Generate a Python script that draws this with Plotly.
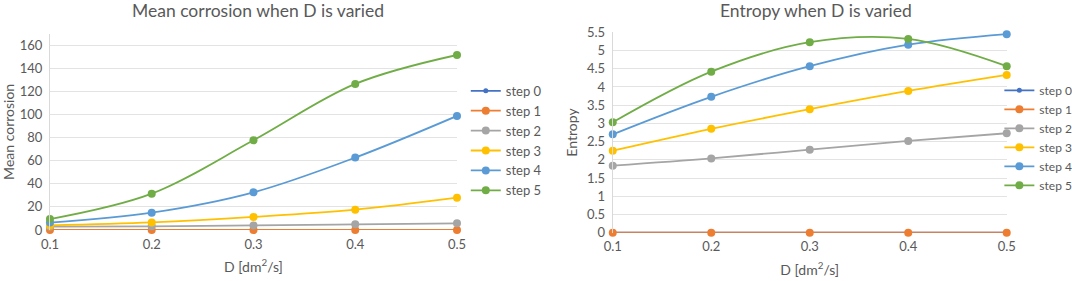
import plotly.graph_objects as go

D = [0.1, 0.2, 0.3, 0.4, 0.5]
series_names = ["step 0", "step 1", "step 2", "step 3", "step 4", "step 5"]
colors = ["#4472C4", "#ED7D31", "#A5A5A5", "#FFC000", "#5B9BD5", "#70AD47"]

corr_step0 = [0, 0, 0, 0, 0]
corr_step1 = [0, 0, 0, 0, 0]
corr_step2 = [2.9, 3.2, 4.0, 4.9, 5.8]
corr_step3 = [4.0, 6.6, 11.3, 17.6, 28.0]
corr_step4 = [6.4, 15.0, 32.6, 62.7, 98.8]
corr_step5 = [9.5, 31.5, 77.7, 126.5, 151.6]

ent_step0 = [0, 0, 0, 0, 0]
ent_step1 = [0, 0, 0, 0, 0]
ent_step2 = [1.84, 2.04, 2.28, 2.52, 2.73]
ent_step3 = [2.25, 2.85, 3.39, 3.89, 4.33]
ent_step4 = [2.70, 3.73, 4.57, 5.16, 5.45]
ent_step5 = [3.03, 4.42, 5.23, 5.32, 4.57]

corr = [corr_step0, corr_step1, corr_step2, corr_step3, corr_step4, corr_step5]
ent = [ent_step0, ent_step1, ent_step2, ent_step3, ent_step4, ent_step5]

FONT = "Lato, 'Liberation Sans', sans-serif"
TXT = "#595959"
GRID = "#E3E3E3"
CLEAR = "rgba(0,0,0,0)"

fig = go.Figure()
for i, name in enumerate(series_names):
    msize = 5 if i == 0 else 8
    fig.add_trace(go.Scatter(
        x=D, y=corr[i], name=name, mode="lines+markers",
        line=dict(color=colors[i], width=1.8, shape="spline", smoothing=1.0),
        marker=dict(color=colors[i], size=msize),
        cliponaxis=False, xaxis="x", yaxis="y", legend="legend"))
for i, name in enumerate(series_names):
    msize = 5 if i == 0 else 8
    fig.add_trace(go.Scatter(
        x=D, y=ent[i], name=name, mode="lines+markers",
        line=dict(color=colors[i], width=1.8, shape="spline", smoothing=1.0),
        marker=dict(color=colors[i], size=msize),
        cliponaxis=False, xaxis="x2", yaxis="y2", legend="legend2"))

yaxis_common = dict(tickfont=dict(family=FONT, size=13, color=TXT), showgrid=True,
                    gridcolor=GRID, zeroline=False, ticks="outside", ticklen=4,
                    tickcolor=CLEAR, showline=True, linecolor="#D9D9D9", linewidth=1,
                    automargin=False)
xaxis_common = dict(range=[0.1, 0.5], tickvals=D, ticktext=["0.1", "0.2", "0.3", "0.4", "0.5"],
                    showgrid=False, showline=False, zeroline=False, automargin=False,
                    ticks="outside", ticklen=2, tickcolor=CLEAR,
                    tickfont=dict(family=FONT, size=13, color=TXT),
                    title=dict(text="D [dm<sup>2</sup>/s]", font=dict(family=FONT, size=14, color=TXT), standoff=11))

fig.update_layout(
    width=1072, height=281,
    margin=dict(l=0, r=0, t=0, b=0, autoexpand=False),
    paper_bgcolor="white", plot_bgcolor="white",
    font=dict(family=FONT, color=TXT),
    xaxis=dict(domain=[0.0466, 0.4263], anchor="y", **xaxis_common),
    yaxis=dict(domain=[0.1815, 0.880], range=[0, 170], tickvals=[0, 20, 40, 60, 80, 100, 120, 140, 160],
               anchor="x",
               title=dict(text="Mean corrosion", font=dict(family=FONT, size=14, color=TXT), standoff=16),
               **yaxis_common),
    xaxis2=dict(domain=[0.5716, 0.9391], anchor="y2", **xaxis_common),
    yaxis2=dict(domain=[0.1719, 0.885], range=[0, 5.5],
                tickvals=[0, 0.5, 1, 1.5, 2, 2.5, 3, 3.5, 4, 4.5, 5, 5.5],
                ticktext=["0", "0.5", "1", "1.5", "2", "2.5", "3", "3.5", "4", "4.5", "5", "5.5"],
                anchor="x2",
                title=dict(text="Entropy", font=dict(family=FONT, size=14, color=TXT), standoff=6),
                **yaxis_common),
    legend=dict(x=0.4345, y=0.73, xanchor="left", yanchor="top", bgcolor=CLEAR,
                font=dict(family=FONT, size=13, color=TXT), itemwidth=30, tracegroupgap=0),
    legend2=dict(x=1.005, y=0.73, xanchor="right", yanchor="top", bgcolor=CLEAR,
                 font=dict(family=FONT, size=12, color=TXT), itemwidth=30, tracegroupgap=0),
    annotations=[
        dict(text="Mean corrosion when D is varied", x=0.2407, y=0.961, xref="paper", yref="paper",
             xanchor="center", yanchor="middle", showarrow=False,
             font=dict(family=FONT, size=17.5, color=TXT)),
        dict(text="Entropy when D is varied", x=0.761, y=0.961, xref="paper", yref="paper",
             xanchor="center", yanchor="middle", showarrow=False,
             font=dict(family=FONT, size=17.5, color=TXT)),
    ],
)

fig.write_html("out.html", config={"displayModeBar": False},
               post_script="document.body.style.margin='0';document.body.style.overflow='hidden';")
